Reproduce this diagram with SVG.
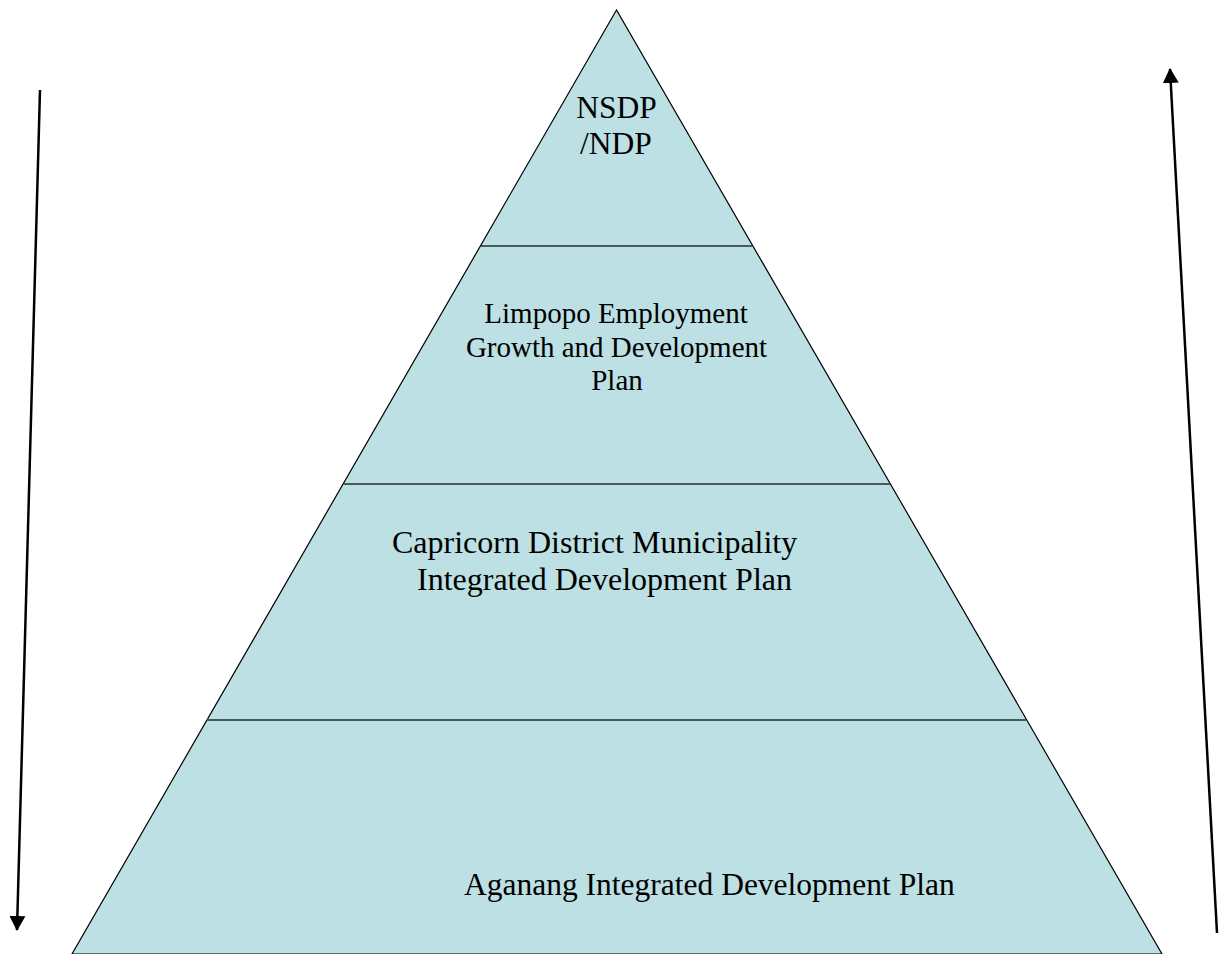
<svg xmlns="http://www.w3.org/2000/svg" width="1219" height="954" viewBox="0 0 1219 954">
<style>
.t{font-family:"Liberation Serif","Times New Roman",serif;fill:#000}
.div{stroke:#4a5a5c;stroke-width:2.2;fill:none}
.arr{stroke:#000;stroke-width:2.5;fill:none}
</style>
<defs>
<marker id="ah2" markerWidth="15" markerHeight="17" refX="14" refY="8.5" orient="auto" markerUnits="userSpaceOnUse" viewBox="0 0 15 17">
<path d="M0,0.5 L15,8.5 L0,16.5 Z" fill="#000"/>
</marker>
</defs>
<rect width="1219" height="954" fill="#fff"/>
<g id="pyramid">
<polygon points="616.5,10 72,954 1162,954" fill="#bce0e3" stroke="#000" stroke-width="1.2"/>
</g>
<g id="dividers">
<line class="div" x1="481" y1="246" x2="752" y2="246"/>
<line class="div" x1="344" y1="484" x2="890" y2="484"/>
<line class="div" x1="207" y1="720" x2="1026" y2="720"/>
</g>
<g id="n1">
<text class="t" font-size="31.5" text-anchor="middle" x="616.5" y="118">NSDP</text>
<text class="t" font-size="31.5" text-anchor="middle" x="616" y="154">/NDP</text>
</g>
<g id="n2">
<text class="t" font-size="29" text-anchor="middle" x="616" y="323">Limpopo Employment</text>
<text class="t" font-size="29" text-anchor="middle" x="616.5" y="357">Growth and Development</text>
<text class="t" font-size="29" text-anchor="middle" x="617" y="390">Plan</text>
</g>
<g id="n3">
<text class="t" font-size="32" x="392" y="553">Capricorn District Municipality</text>
<text class="t" font-size="32" x="417" y="590">Integrated Development Plan</text>
</g>
<g id="n4">
<text class="t" font-size="31.5" x="464" y="895">Aganang Integrated Development Plan</text>
</g>
<g id="connectors">
<line class="arr" x1="40" y1="90" x2="17" y2="930" marker-end="url(#ah2)"/>
<line class="arr" x1="1217" y1="933" x2="1170" y2="69" marker-end="url(#ah2)"/>
</g>
</svg>
